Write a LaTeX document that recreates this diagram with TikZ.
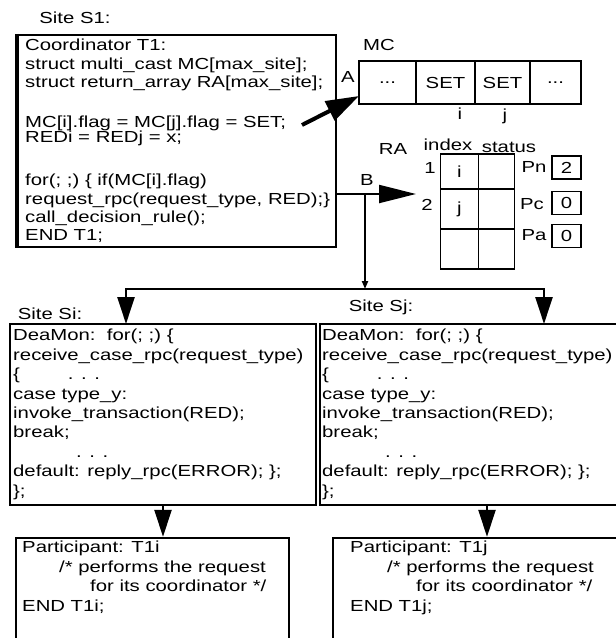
\documentclass[tikz,border=0pt]{standalone}
\usepackage{fontspec}
\setmainfont{Liberation Sans}[FakeStretch=1.27]
\usetikzlibrary{positioning,arrows.meta,calc}

\begin{document}
\begin{tikzpicture}[x=1pt, y=-1pt,
    txt/.style={font=\fontsize{16}{18.4}\selectfont, inner sep=0pt},
    code/.style={txt, align=left, anchor=north west},
    site/.style={draw, line width=2.4pt, inner sep=0pt},
    cell/.style={draw, line width=1.8pt, outer sep=0pt, minimum height=43pt, inner sep=0pt, txt},
    racell/.style={draw, line width=1.8pt, outer sep=0pt, minimum width=38pt, inner sep=0pt, txt},
    flagbox/.style={draw, line width=1.8pt, minimum width=29pt, minimum height=23pt, inner sep=0pt, txt},
    fat/.style={-{Triangle[length=27pt,width=17pt]}, line width=2.4pt},
]

    \useasboundingbox (0,0) rectangle (616,638);

    % site S1 : the coordinator
    \node (s1lab)  at ( 75, 18 ) [txt] {Site S1:};
    \node (s1)  at ( 177, 141 ) [site, minimum width=318pt, minimum height=212pt] {};
    \draw[line width=3.6pt] (s1.north west) -- (s1.south west);
    \node (s1txt)  at ( 25, 39 ) [code] {Coordinator T1:\\
        struct multi\_cast MC[max\_site];\\
        struct return\_array RA[max\_site];\\[21.8pt]
        MC[i].flag = MC[j].flag = SET;\\[-3.4pt]
        REDi = REDj = x;\\[24.6pt]
        for(; ;) \{ if(MC[i].flag)\\
        request\_rpc(request\_type, RED);\}\\
        call\_decision\_rule();\\
        END T1;};

    % multi_cast array MC
    \node (mclab)  at ( 379, 45 ) [txt] {MC};
    \node (mc0)  at ( 387.5, 82.5 ) [cell, minimum width=57pt] {...};
    \node (mc1)  [cell, minimum width=59pt, right=0pt of mc0] {SET};
    \node (mc2)  [cell, minimum width=55pt, right=0pt of mc1] {SET};
    \node (mc3)  [cell, minimum width=51pt, right=0pt of mc2] {...};
    \node (mci)  at ( 460, 114 ) [txt] {i};
    \node (mcj)  at ( 505, 116 ) [txt] {j};

    \node (alab)  at ( 348, 77 ) [txt] {A};
    \coordinate (atail) at ( 302, 125 );
    \draw[-{Triangle[length=33pt,width=21pt]}, line width=4pt] (atail) -- ($(mc0.south west)+(0,-8)$);

    % return_array RA
    \node (ralab)  at ( 393, 149 ) [txt] {RA};
    \node (idxlab)  at ( 448, 145 ) [txt] {index};
    \node (stlab)  at ( 509, 147 ) [txt] {status};

    \node (ra1i)  at ( 459.5, 171.5 ) [racell, minimum height=35pt] {i};
    \node (ra1s)  [racell, minimum height=35pt, minimum width=36pt, right=0pt of ra1i] {};
    \node (ra2i)  [racell, minimum height=40pt, below=0pt of ra1i] {j};
    \node (ra2s)  [racell, minimum height=40pt, minimum width=36pt, right=0pt of ra2i] {};
    \node (ra3i)  [racell, minimum height=40pt, below=0pt of ra2i] {};
    \node (ra3s)  [racell, minimum height=40pt, minimum width=36pt, right=0pt of ra3i] {};
    \node (row1)  at ( 430, 168 ) [txt] {1};
    \node (row2)  at ( 427, 205 ) [txt] {2};

    \node (pnlab)  at ( 534, 167 ) [txt] {Pn};
    \node (pn)  at ( 566.5, 167.5 ) [flagbox] {2};
    \node (pclab)  at ( 532, 204 ) [txt] {Pc};
    \node (pc)  at ( 566.5, 203 ) [flagbox] {0};
    \node (palab)  at ( 534, 235 ) [txt] {Pa};
    \node (pa)  at ( 566.5, 236 ) [flagbox] {0};

    % request_rpc to the sites
    \node (blab)  at ( 367, 180 ) [txt] {B};
    \coordinate (bstart) at ( 336, 194 );
    \coordinate (btip) at ( 416, 194 );
    \coordinate (bjoin) at ( 365, 194 );
    \coordinate (split) at ( 365, 289 );
    \coordinate (sitop) at ( 126, 324 );
    \coordinate (sjtop) at ( 544, 324 );
    \draw[-{Triangle[length=37pt,width=18pt]}, line width=2.2pt] (bstart) -- (btip);
    \draw[-{Triangle[length=8pt,width=6pt]}, line width=2.2pt] (bjoin) -- (split);
    \draw[fat] (split) -| (sitop);
    \draw[fat] (split) -| (sjtop);

    % site Si and site Sj : the daemons
    \node (silab)  at ( 50, 314 ) [txt] {Site Si:};
    \node (sjlab)  at ( 381, 307 ) [txt] {Site Sj:};
    \node (si)  at ( 163, 414.5 ) [site, line width=2.8pt, minimum width=306pt, minimum height=181pt] {};
    \node (sj)  at ( 470, 414.5 ) [site, line width=2.8pt, minimum width=300pt, minimum height=181pt] {};

    \node (sitxt)  at ( 13, 329 ) [code, font=\fontsize{16}{19.4}\selectfont] {DeaMon:\ \ for(; ;) \{\\
        receive\_case\_rpc(request\_type)\\
        \{\hspace*{48pt}. . .\\
        case type\_y:\\
        invoke\_transaction(RED);\\
        break;\\
        \hspace*{63pt}. . .\\
        default: reply\_rpc(ERROR); \};\\
        \};};
    \node (sjtxt)  at ( 322, 329 ) [code, font=\fontsize{16}{19.4}\selectfont] {DeaMon:\ \ for(; ;) \{\\
        receive\_case\_rpc(request\_type)\\
        \{\hspace*{48pt}. . .\\
        case type\_y:\\
        invoke\_transaction(RED);\\
        break;\\
        \hspace*{63pt}. . .\\
        default: reply\_rpc(ERROR); \};\\
        \};};

    % participants
    \node (pi)  at ( 152.5, 598 ) [site, minimum width=273pt, minimum height=120pt] {};
    \node (pj)  at ( 476.5, 598 ) [site, minimum width=287pt, minimum height=120pt] {};
    \coordinate (piin) at ( $(pi.north)+(10.5,0)$ );
    \coordinate (pjin) at ( $(pj.north)+(10.5,0)$ );
    \draw[fat] (si.south -| piin) -- (piin);
    \draw[fat] (sj.south -| pjin) -- (pjin);

    \node (pitxt)  at ( 22, 541 ) [code, font=\fontsize{16}{19.5}\selectfont] {Participant: T1i\\
        \hspace*{37pt}/* performs the request\\
        \hspace*{68pt}for its coordinator */\\
        END T1i;};
    \node (pjtxt)  at ( 350, 541 ) [code, font=\fontsize{16}{19.5}\selectfont] {Participant: T1j\\
        \hspace*{37pt}/* performs the request\\
        \hspace*{66pt}for its coordinator */\\
        END T1j;};

\end{tikzpicture}
\end{document}
